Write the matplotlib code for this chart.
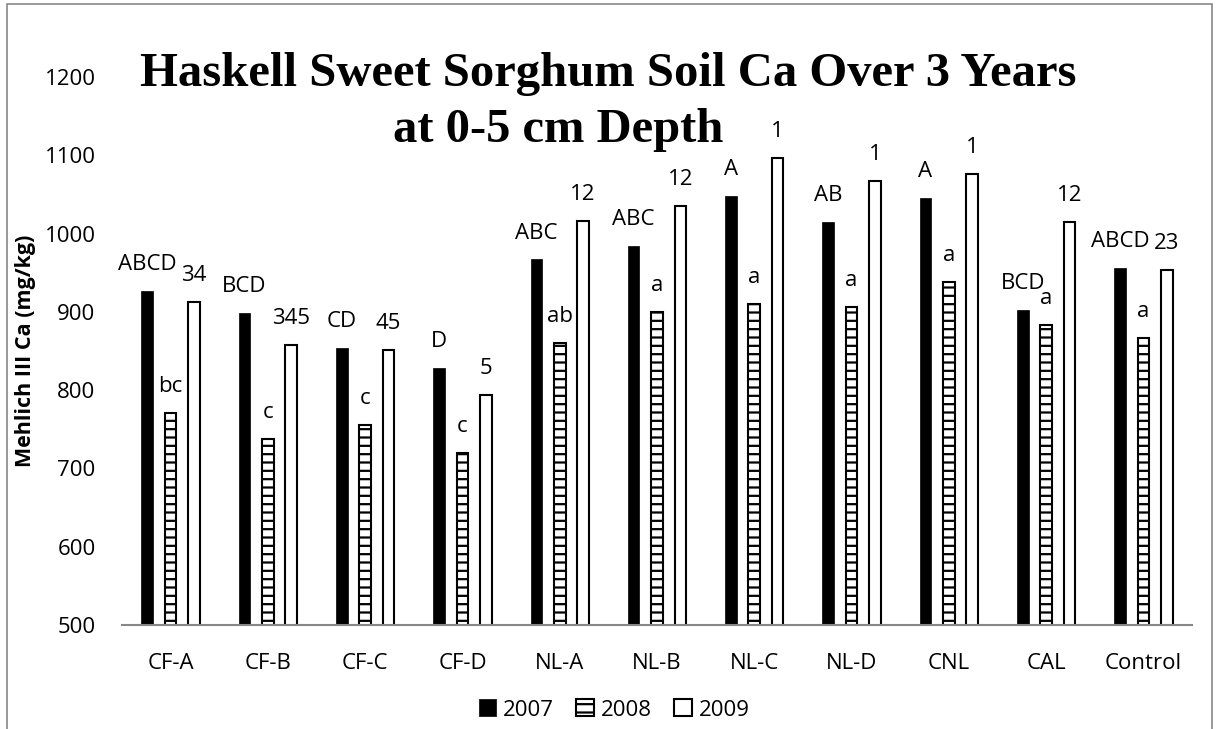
import numpy as np
import matplotlib
matplotlib.use("Agg")
import matplotlib.pyplot as plt
from matplotlib.patches import Rectangle

# data
categories = ["CF-A", "CF-B", "CF-C", "CF-D", "NL-A", "NL-B", "NL-C", "NL-D", "CNL", "CAL", "Control"]
ca_2007 = [927, 899, 854, 828, 967, 984, 1048, 1015, 1046, 903, 956]
ca_2008 = [771, 738, 755, 720, 860, 900, 910, 906, 938, 883, 867]
ca_2009 = [913, 858, 851, 794, 1016, 1035, 1097, 1067, 1076, 1015, 954]
letters_2007 = ["ABCD", "BCD", "CD", "D", "ABC", "ABC", "A", "AB", "A", "BCD", "ABCD"]
letters_2008 = ["bc", "c", "c", "c", "ab", "a", "a", "a", "a", "a", "a"]
letters_2009 = ["34", "345", "45", "5", "12", "12", "1", "1", "1", "12", "23"]
years = ["2007", "2008", "2009"]

W, H = 1217, 729
SANS = "Open Sans"
FS = 16

plt.rcParams["font.family"] = SANS
plt.rcParams["hatch.linewidth"] = 1.6
plt.rcParams["hatch.color"] = "#444444"

fig = plt.figure(figsize=(W / 100, H / 100), dpi=100)
ax = fig.add_axes([122 / W, 1 - 625 / H, (1192 - 122) / W, (625 - 77) / H])

x = np.arange(len(categories))
bw = 0.12
off = 0.24

b1 = ax.bar(x - off, ca_2007, bw, color="black", edgecolor="black", linewidth=0.5, label=years[0])
b2 = ax.bar(x, ca_2008, bw, color="white", edgecolor="black", linewidth=1.5, hatch="--", label=years[1])
b3 = ax.bar(x + off, ca_2009, bw, color="white", edgecolor="black", linewidth=1.5, label=years[2])

# significance letters above each bar
for bars, labs in [(b1, letters_2007), (b2, letters_2008), (b3, letters_2009)]:
    for rect, lab in zip(bars, labs):
        ax.annotate(lab, (rect.get_x() + rect.get_width() / 2, rect.get_height()),
                    xytext=(0, 19), textcoords="offset points",
                    ha="center", va="center", fontsize=FS, clip_on=False)

ax.set_ylim(500, 1200)
ax.set_xlim(-0.5, len(categories) - 0.5)
ax.set_yticks(range(500, 1201, 100))
ax.set_xticks(x)
ax.set_xticklabels(categories)
ax.tick_params(axis="both", length=0, labelsize=FS)
ax.tick_params(axis="y", pad=19)
ax.tick_params(axis="x", pad=20)
for s in ["top", "right", "left"]:
    ax.spines[s].set_visible(False)
ax.spines["bottom"].set_color("#888888")
ax.spines["bottom"].set_linewidth(1.5)
ax.set_facecolor("none")

fig.text(26 / W, 1 - 351 / H, "Mehlich III Ca (mg/kg)", rotation=90, ha="center", va="center",
         fontsize=15.5, fontweight="bold")

fig.text(608 / W, 1 - 74 / H, "Haskell Sweet Sorghum Soil Ca Over 3 Years", ha="center", va="center",
         fontsize=35, fontweight="bold", family="Liberation Serif")
fig.text(558 / W, 1 - 130 / H, "at 0-5 cm Depth", ha="center", va="center",
         fontsize=35, fontweight="bold", family="Liberation Serif")

fig.legend(handles=[b1, b2, b3], labels=years, loc="center", bbox_to_anchor=(614 / W, 1 - 710 / H),
           ncol=3, frameon=False, fontsize=FS, handlelength=0.8, handleheight=0.8,
           handletextpad=0.3, columnspacing=1.0)

fig.add_artist(Rectangle((7 / W, -0.05), (1212 - 7) / W, 1.05 - 4 / H, transform=fig.transFigure,
                         fill=False, edgecolor="#888888", linewidth=1.2))

fig.savefig("out.png", dpi=100)
